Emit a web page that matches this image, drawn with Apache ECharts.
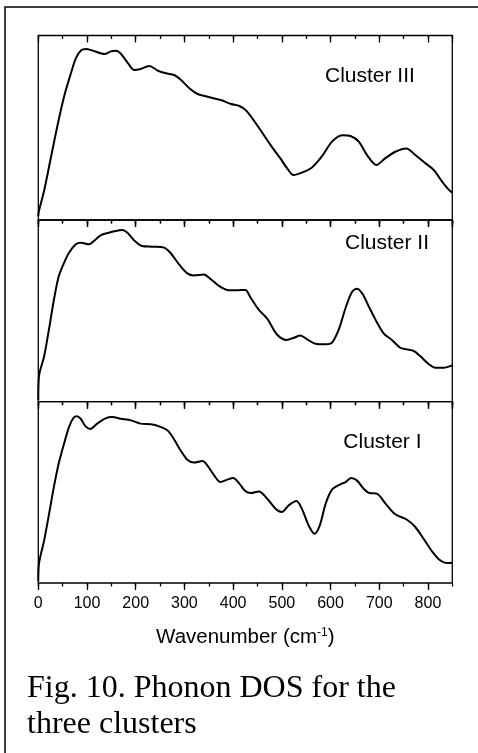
<!DOCTYPE html>
<html>
<head>
<meta charset="utf-8">
<script src="https://cdn.jsdelivr.net/npm/echarts@6/dist/echarts.min.js"></script>
<style>
  html, body { margin: 0; padding: 0; background: #fff; }
  #chart { width: 478px; height: 753px; }
</style>
</head>
<body>
<div id="chart"></div>
<script>
// Phonon DOS curves (y in % of panel height)
const wnIII = [0, 1, 12, 26, 40, 53, 67, 77, 88, 98, 112, 136, 149, 160, 170, 184, 197, 208, 228, 245, 262, 279, 293, 310, 327, 348, 375, 396, 413, 427, 449, 477, 497, 511, 524, 541, 562, 583, 603, 624, 641, 658, 675, 694, 712, 733, 756, 774, 795, 812, 829, 843, 850]
const dosIII = [2, 4.5, 16, 34, 52, 67, 79.5, 87.6, 92, 92.7, 91.8, 90, 91.4, 91.8, 90, 85, 81.3, 81.7, 83.5, 81, 79.5, 78.6, 75.9, 71.4, 68.3, 66.8, 65, 62.9, 61.8, 59.3, 51.5, 40.6, 33.4, 28, 24.4, 25.7, 28.5, 34.7, 42.5, 46, 45.5, 42.5, 35.2, 29.8, 33.4, 37, 38.8, 35.2, 30.7, 27.1, 20.8, 16.3, 14.8]

const wnII = [0, 1.4, 12, 22, 32, 42, 53, 63, 77, 87, 104, 114, 128, 145, 159, 172, 183, 196, 213, 234, 258, 271, 289, 306, 319, 340, 353, 371, 388, 405, 425, 436, 453, 470, 490, 510, 525, 538, 552, 569, 590, 603, 617, 631, 644, 654, 665, 678, 692, 709, 726, 743, 757, 771, 784, 802, 815, 832, 850]
const dosII = [1, 14, 25, 40, 56, 69, 76.5, 82, 86.6, 87.5, 86.6, 88.4, 91.6, 93, 94, 94.5, 93, 89, 85.7, 85.3, 84.8, 82, 75.6, 70.6, 69.5, 70, 67.7, 63.7, 61.5, 61.3, 61.5, 57.2, 50.5, 45.7, 37, 34, 35.2, 36.5, 34.3, 31.9, 31.6, 32.5, 39.8, 51.7, 60.4, 62.2, 59.6, 52.7, 45.3, 37.6, 34, 29.7, 28.8, 27.9, 25.1, 20.6, 18.7, 18.7, 20]

const wnI = [0, 1.4, 12, 22, 32, 42, 53, 63, 72, 79, 87, 97, 107, 121, 138, 152, 169, 190, 210, 231, 248, 265, 278, 292, 306, 320, 337, 347, 361, 374, 388, 400, 412, 425, 436, 453, 470, 487, 500, 514, 530, 541, 555, 567, 578, 590, 603, 620, 631, 642, 654, 668, 680, 695, 712, 733, 757, 774, 791, 808, 825, 839, 850]
const dosI = [1, 10.7, 23.5, 38, 53, 66, 77, 86, 91, 92, 90.6, 86.4, 85, 87.9, 90.8, 91.5, 90.6, 89.7, 87.9, 87.5, 86.4, 84.2, 79.6, 73.2, 68, 66.4, 67.3, 64.9, 59.4, 55.7, 57, 57.9, 55.1, 50.7, 49.6, 50.5, 46.5, 41, 39.2, 42.8, 45.2, 41, 31.8, 27.2, 31.8, 43.8, 51.5, 54.4, 55.7, 57.9, 56.6, 52, 49.6, 49.3, 44.1, 37.9, 34.9, 30.9, 24.4, 17.6, 12.5, 11, 11.2]

const clusterNames = ['Cluster III', 'Cluster II', 'Cluster I']
const tickLabels = ['0', '100', '200', '300', '400', '500', '600', '700', '800']

const panels = [
  { x: wnIII, y: dosIII, top: 35.5, height: 184.5, label: [325, 76.7] },
  { x: wnII, y: dosII, top: 220, height: 181.7, label: [345, 243.2] },
  { x: wnI, y: dosI, top: 401.7, height: 181.3, label: [343.3, 442.5] },
]

const chart = echarts.init(document.getElementById('chart'))

const grid = []
const xAxis = []
const yAxis = []
const series = []
const graphic = [
  // outer figure box (right and bottom edges run off the page)
  {
    type: 'rect',
    shape: { x: 5, y: 7, width: 500, height: 800 },
    style: { fill: 'none', stroke: '#000', lineWidth: 1.5 },
  },
]

function tickAxis(gridIndex, position, interval, length, extra) {
  return Object.assign({
    gridIndex,
    type: 'value',
    position,
    min: 0,
    max: 850,
    interval,
    axisLine: { show: false },
    axisTick: { show: true, inside: position === 'top', length, lineStyle: { color: '#000', width: 1.3 } },
    axisLabel: { show: false },
    splitLine: { show: false },
  }, extra || {})
}

panels.forEach((p, i) => {
  const last = i === panels.length - 1
  // main grid (border + major ticks) and a twin grid for the minor ticks
  grid.push({
    left: 38.3, width: 414, top: p.top, height: p.height,
    show: true, borderColor: '#000', borderWidth: 1.3, backgroundColor: 'transparent',
  })
  grid.push({ left: 38.3, width: 414, top: p.top, height: p.height })

  xAxis.push(tickAxis(2 * i, 'bottom', 100, 7, last ? {
    axisLabel: {
      show: true,
      color: '#000',
      fontFamily: 'Liberation Sans',
      fontSize: 16,
      margin: 13,
      showMaxLabel: false,
      formatter: v => tickLabels[v / 100] || '',
    },
    name: '{a|Wavenumber (cm}{s|-1}{a|)}',
    nameLocation: 'middle',
    nameGap: 44,
    nameTextStyle: {
      rich: {
        a: { fontFamily: 'Liberation Sans', fontSize: 20.5, color: '#000' },
        s: { fontFamily: 'Liberation Sans', fontSize: 12, color: '#000', verticalAlign: 'top' },
      },
    },
  } : null))
  xAxis.push(tickAxis(2 * i, 'top', 100, 7))
  xAxis.push(tickAxis(2 * i + 1, 'bottom', 50, 3.5))
  xAxis.push(tickAxis(2 * i + 1, 'top', 50, 3.5))

  yAxis.push({ gridIndex: 2 * i, type: 'value', min: 0, max: 100, show: false })
  yAxis.push({ gridIndex: 2 * i + 1, type: 'value', min: 0, max: 100, show: false })

  series.push({
    type: 'line',
    xAxisIndex: 4 * i,
    yAxisIndex: 2 * i,
    data: p.x.map((x, k) => [x, p.y[k]]),
    showSymbol: false,
    symbol: 'none',
    smooth: 0.3,
    lineStyle: { color: '#000', width: 2 },
    silent: true,
  })

  graphic.push({
    type: 'text',
    left: p.label[0],
    top: p.label[1] - 10.5,
    style: { text: clusterNames[i], font: '21px "Liberation Sans"', fill: '#000' },
  })
})

// figure caption
graphic.push({
  type: 'text', left: 27, top: 673,
  style: { text: 'Fig. 10. Phonon DOS for the', font: '32px "Liberation Serif"', fill: '#000' },
})
graphic.push({
  type: 'text', left: 27, top: 709,
  style: { text: 'three clusters', font: '32px "Liberation Serif"', fill: '#000' },
})

chart.setOption({
  animation: false,
  backgroundColor: '#fff',
  grid,
  xAxis,
  yAxis,
  series,
  graphic,
})
</script>
</body>
</html>
